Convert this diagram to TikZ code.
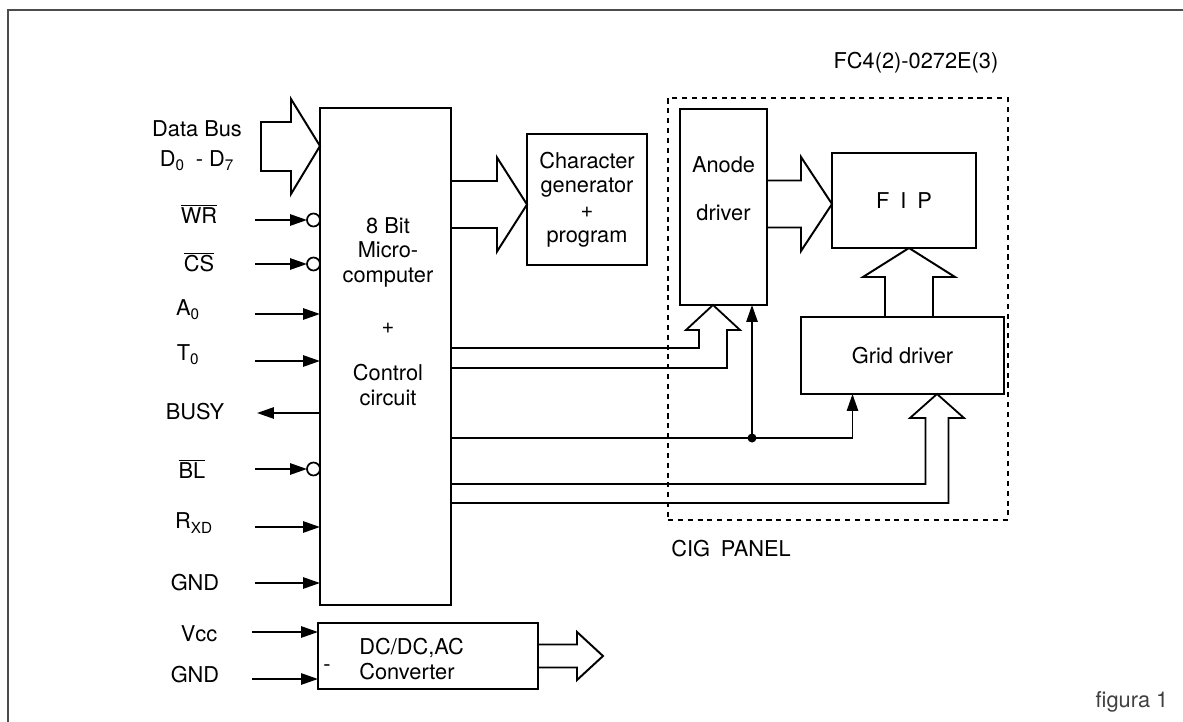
\documentclass[tikz,border=0pt]{standalone}
\usepackage{fontspec}
\setmainfont{TeX Gyre Heros}
\usetikzlibrary{arrows.meta, positioning, calc}
\newlength\pxu
\setlength\pxu{0.025cm}
\tikzset{
  block/.style={
    draw,
    line width=1.5pt,
    inner sep=0pt,
    outer sep=0pt,
    anchor=north west,
    align=center
  },
  fatarrow/.style={
    draw,
    line width=1.4pt,
    line join=miter
  },
  wire/.style={
    line width=1.3pt
  },
  inarrow/.style={
    wire,
    -{Triangle[length=12pt,width=8pt]}
  },
  bubble/.style={draw, circle, line width=1.2pt, fill=white, minimum size=13\pxu, inner sep=0pt, outer sep=0pt},
  dot/.style={circle, fill, minimum size=9\pxu, inner sep=0pt},
  panel/.style={draw, dash pattern=on 3.6pt off 3.4pt, line width=1.8pt, inner sep=0pt, outer sep=0pt, anchor=north west},
  lbl/.style={inner sep=0pt, align=center}
}

\begin{document}
\begin{tikzpicture}[x=1\pxu, y=-1\pxu, font=\fontsize{15.5}{17.5}\selectfont]

\useasboundingbox (0,0) rectangle (1183,722);
% frame
\draw[line width=1.1pt, black!70] (8,722) -- (8,10) -- (1183,10);

\node[lbl] (code) at (916,63) {FC4(2)-0272E(3)};
\node[lbl, black!75] (fig) at (1132,702) {figura 1};

% panel
\node[panel, minimum width=340\pxu, minimum height=422\pxu] (cig) at (668,98) {};
\node[lbl] (cigtxt) at (731,549) {CIG\enspace PANEL};

% blocks
\node[block, minimum width=131\pxu, minimum height=497\pxu] (mc) at (320,108) {};
\node[lbl, anchor=north] (mctxt) at (388,217) {8 Bit\\Micro-\\computer\\[19pt]+\\[16pt]Control\\circuit};
\node[block, minimum width=120\pxu, minimum height=131\pxu] (cg) at (527,134) {Character\\generator\\+\\program};
\node[block, minimum width=87\pxu, minimum height=196\pxu] (ad) at (680,109) {};
\node[lbl] (adtxt) at (723.5,189) {Anode\\[16.5pt]driver};
\node[block, minimum width=144\pxu, minimum height=95\pxu] (fip) at (832,153) {F\enspace I\enspace P};
\node[block, minimum width=203\pxu, minimum height=77\pxu] (gd) at (801,317) {Grid driver};
\node[block, minimum width=220\pxu, minimum height=66\pxu] (dc) at (318,623) {};
\node[lbl, anchor=west, align=left] (dctxt) at (359,659) {DC/DC,AC\\Converter};
\node[lbl] (dcmark) at (327,668) {-};

% data bus
\node[lbl] (dbus) at (197,129) {Data Bus};
\node[lbl] (dlines) at (197,161) {D\textsubscript{0}\enspace- D\textsubscript{7}};
\draw[fatarrow] ($(mc.north west)+(0,38)$) -- ++(-29,-47) -- ++(0,23) -- ++(-30,0) -- ++(0,49) -- ++(30,0) -- ++(0,23) -- cycle;

% inputs, active low
\foreach \nm/\xl/\yl/\yw/\txt in {wr/199/214/220/{$\overline{\mbox{WR}}$}, cs/199/262/264/{$\overline{\mbox{CS}}$}, bl/192/469/469/{$\overline{\mbox{BL}}$}} {
  \node[lbl] (\nm) at (\xl,\yl) {\txt};
  \coordinate (\nm in) at (255,\yw);
  \node[bubble, anchor=east] (\nm b) at (\nm in -| mc.west) {};
  \draw[inarrow] (\nm in) -- (\nm b);
}
% inputs
\foreach \nm/\xl/\yl/\yw/\txt in {a0/188/310/314/{A\textsubscript{0}}, t0/188/355/361/{T\textsubscript{0}}, rxd/194/523/527/{R\textsubscript{XD}}, gnd/195/583/583/GND} {
  \node[lbl] (\nm) at (\xl,\yl) {\txt};
  \coordinate (\nm in) at (255,\yw);
  \draw[inarrow] (\nm in) -- (\nm in -| mc.west);
}
\foreach \nm/\xl/\yl/\yw/\txt in {vcc/199/634/632/Vcc, gndb/195/675/679/GND} {
  \node[lbl] (\nm) at (\xl,\yl) {\txt};
  \coordinate (\nm in) at (252,\yw);
  \draw[inarrow] (\nm in) -- (\nm in -| dc.west);
}
% output
\node[lbl] (busy) at (195,412) {BUSY};
\coordinate (busy out) at (257,413);
\draw[inarrow] (busy out -| mc.west) -- (busy out);

% buses
\draw[fatarrow] ($(cg.west)+(-76,-18.5)$) -- ++(46,0) -- ++(0,-23.5) -- ($(cg.west)+(0,5)$) -- ++(-30,47) -- ++(0,-23.5) -- ++(-46,0);
\draw[fatarrow] ($(fip.west)+(-65,-20)$) -- ++(34,0) -- ++(0,-23.5) -- ($(fip.west)+(0,3.5)$) -- ++(-31,47) -- ++(0,-23.5) -- ++(-34,0);
\draw[fatarrow] ($(fip.south)+(-19,69)$) -- ++(0,-40) -- ++(-22,0) -- ($(fip.south)+(5,0)$) -- ++(46,29) -- ++(-22,0) -- ++(0,40);
\draw[fatarrow] ($(dc.east)+(0,-11.5)$) -- ++(39,0) -- ++(0,-12.5) -- ++(26,24) -- ++(-26,24) -- ++(0,-12.5) -- ++(-39,0);
\draw[wire] (mc.east |- 0,348) -- ($(ad.south)+(-24.5,43)$) -- ++(0,-18) -- ++(-13,0) -- ($(ad.south)+(-10.5,0)$) -- ++(27,25) -- ++(-13,0) -- ++(0,38) -- (mc.east |- 0,368);
\draw[wire] (mc.east |- 0,484) -- ($(gd.south)+(23,90)$) -- ++(0,-66) -- ++(-15.5,0) -- ($(gd.south)+(34.5,0)$) -- ++(27,24) -- ++(-15.5,0) -- ++(0,85) -- (mc.east |- 0,503);

% strobe line
\node[dot] (jn) at (752,438) {};
\draw[wire] (mc.east |- jn) -- (jn.center);
\draw[inarrow] (jn.center) -- (jn.center |- ad.south);
\draw[inarrow] (jn.center) -| ($(gd.south)+(-50,0)$);
\end{tikzpicture}
\end{document}
